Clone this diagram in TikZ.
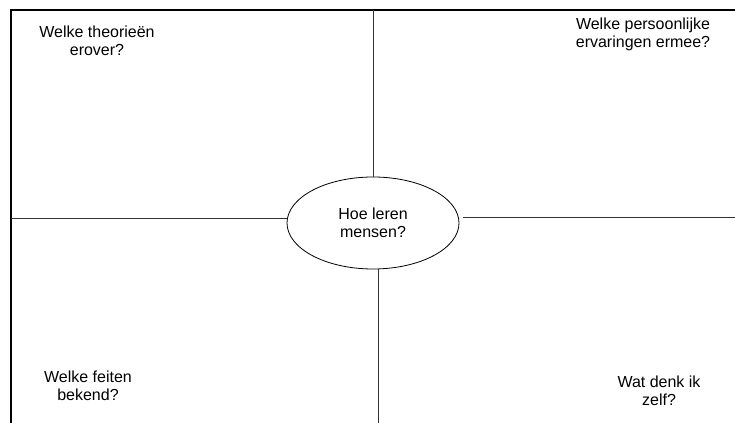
\documentclass[tikz,border=0pt]{standalone}
\usepackage{fontspec}
\setmainfont{Liberation Sans}
\usetikzlibrary{shapes.geometric, positioning}

\begin{document}
\begin{tikzpicture}[
    x=0.75pt, y=-0.75pt,
    question/.style={
        align=center, inner sep=0pt,
        font=\fontsize{12}{13.5}\selectfont
    },
    topic/.style={
        ellipse, draw=black, line width=0.6pt,
        minimum width=129pt, minimum height=69pt, inner sep=0pt,
        align=center, font=\fontsize{12}{13.5}\selectfont
    },
    frame/.style={line width=1.5pt, black},
    divider/.style={line width=0.75pt, black!80}
]
\useasboundingbox (0,0) rectangle (735,423);

% Frame
\coordinate (corner) at (11, 10);
\coordinate (topright) at (735, 10);
\coordinate (botleft) at (11, 423);
\draw[frame] (topright) -- (corner) -- (botleft);

% Central question
\node[topic] (topic) at (373, 223) {Hoe leren\\mensen?};

% Quadrant questions
\node[question] (theory) at (97, 41) {Welke theorie\"en\\erover?};
\node[question] (experience) at (643, 34) {Welke persoonlijke\\ervaringen ermee?};
\node[question] (facts) at (88, 386) {Welke feiten\\bekend?};
\node[question] (self) at (659, 391) {Wat denk ik\\zelf?};

% Dividers
\coordinate (top) at (373, 10);
\coordinate (bottom) at (378, 423);
\coordinate (left) at (11, 219);
\coordinate (right) at (735, 218);
\draw[divider] (top) -- (topic.north);
\draw[divider] (bottom) -- (bottom |- topic.south);
\draw[divider] (left) -- (left -| topic.west);
\draw[divider] (right) -- ([xshift=3pt]right -| topic.east);

\end{tikzpicture}
\end{document}
